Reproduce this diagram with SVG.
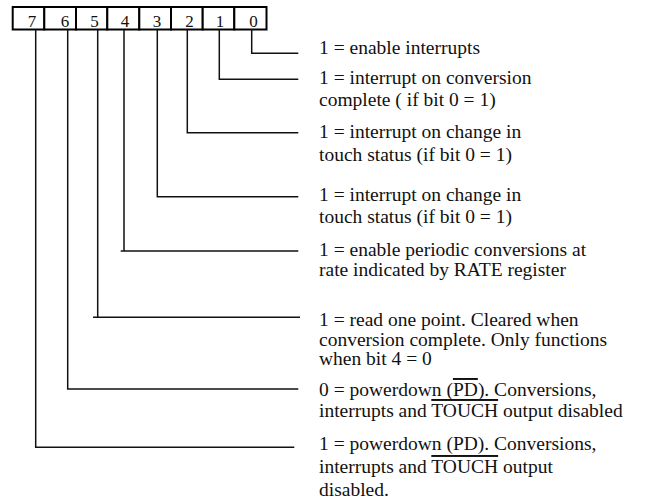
<svg xmlns="http://www.w3.org/2000/svg" width="662" height="504" viewBox="0 0 662 504">
<style>
.bg{fill:#fff}
.cell{fill:#fff;stroke:#000;stroke-width:2}
.dig{font-family:"Liberation Serif",serif;font-size:17px;fill:#111;text-anchor:middle}
.con{fill:none;stroke:#111;stroke-width:1.5}
.t{font-family:"Liberation Serif",serif;font-size:19.5px;fill:#111}
.ov{text-decoration:overline}
</style>
<rect class="bg" x="0" y="0" width="662" height="504"/>
<g id="register">
<rect class="cell" x="12.7" y="7" width="31.6" height="22.5"/>
<rect class="cell" x="44.3" y="7" width="31.7" height="22.5"/>
<rect class="cell" x="76" y="7" width="31.3" height="22.5"/>
<rect class="cell" x="107.3" y="7" width="32" height="22.5"/>
<rect class="cell" x="139.3" y="7" width="31.7" height="22.5"/>
<rect class="cell" x="171" y="7" width="31.7" height="22.5"/>
<rect class="cell" x="202.7" y="7" width="31.6" height="22.5"/>
<rect class="cell" x="234.3" y="7" width="32.2" height="22.5"/>
<text class="dig" x="32" y="27">7</text>
<text class="dig" x="65" y="27">6</text>
<text class="dig" x="94.5" y="27">5</text>
<text class="dig" x="125" y="27">4</text>
<text class="dig" x="157" y="27">3</text>
<text class="dig" x="189.5" y="27">2</text>
<text class="dig" x="220" y="27">1</text>
<text class="dig" x="253.5" y="27">0</text>
</g>
<g id="connectors">
<path class="con" d="M251.7 29.5 V53.3 H298.3"/>
<path class="con" d="M219.3 29.5 V79.3 H298.3"/>
<path class="con" d="M187.3 29.5 V132.7 H298.3"/>
<path class="con" d="M157.3 29.5 V196.7 H298.3"/>
<path class="con" d="M124 29.5 V251 M120.7 251 H298.3"/>
<path class="con" d="M97.7 29.5 V317.3 M93 317.3 H300"/>
<path class="con" d="M67.7 29.5 V389 H298.3"/>
<path class="con" d="M35.7 29.5 V447.3 H294.3"/>
</g>
<g id="bit0"><text class="t" x="319" y="54">1 = enable interrupts</text></g>
<g id="bit1">
<text class="t" x="319" y="84">1 = interrupt on conversion</text>
<text class="t" x="319" y="106">complete ( if bit 0 = 1)</text>
</g>
<g id="bit2">
<text class="t" x="319" y="138">1 = interrupt on change in</text>
<text class="t" x="319" y="161">touch status (if bit 0 = 1)</text>
</g>
<g id="bit3">
<text class="t" x="319" y="201">1 = interrupt on change in</text>
<text class="t" x="319" y="223">touch status (if bit 0 = 1)</text>
</g>
<g id="bit4">
<text class="t" x="319" y="256">1 = enable periodic conversions at</text>
<text class="t" x="319" y="276">rate indicated by RATE register</text>
</g>
<g id="bit5">
<text class="t" x="319" y="326">1 = read one point. Cleared when</text>
<text class="t" x="319" y="346">conversion complete. Only functions</text>
<text class="t" x="319" y="365">when bit 4 = 0</text>
</g>
<g id="bit6">
<text class="t" x="319" y="396">0 = powerdown (<tspan class="ov">PD</tspan>). Conversions,</text>
<text class="t" x="319" y="417">interrupts and <tspan class="ov">TOUCH</tspan> output disabled</text>
</g>
<g id="bit7">
<text class="t" x="319" y="450">1 = powerdown (PD). Conversions,</text>
<text class="t" x="319" y="473">interrupts and <tspan class="ov">TOUCH</tspan> output</text>
<text class="t" x="319" y="496">disabled.</text>
</g>
</svg>
